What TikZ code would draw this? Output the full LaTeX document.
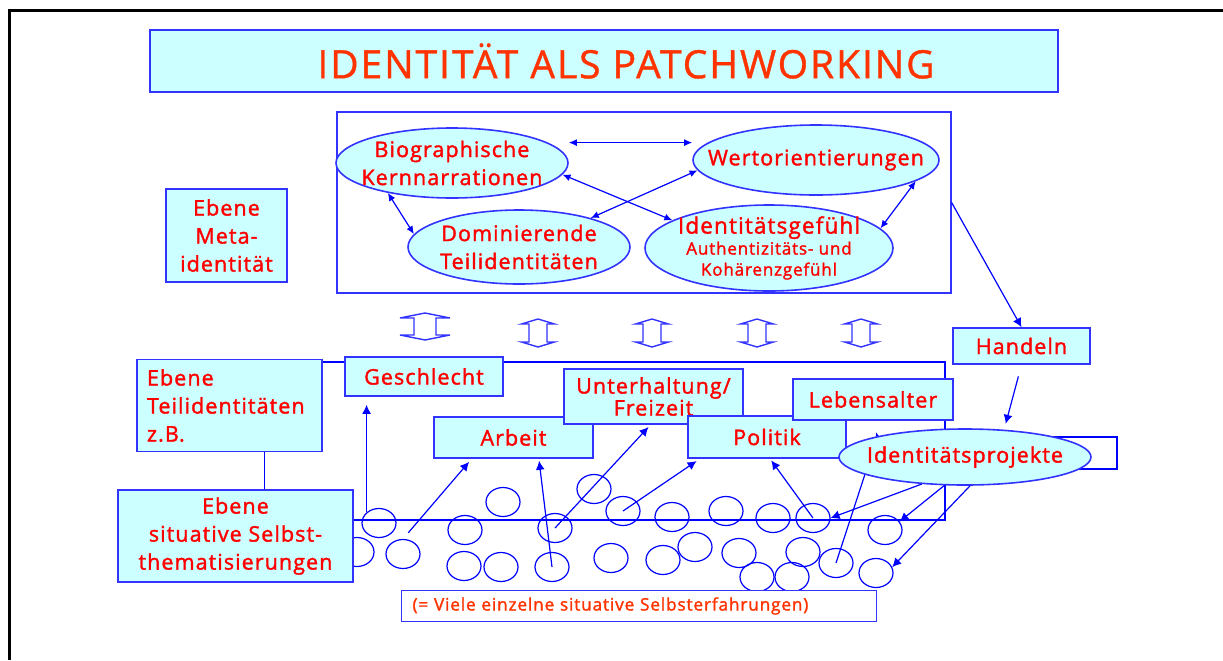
\documentclass[tikz,border=0pt]{standalone}
\usepackage{fontspec}
\setmainfont{Open Sans}
\newfontfamily\labelfont[LetterSpace=5,FakeBold=1.6]{Open Sans}
\newfontfamily\titlefont[LetterSpace=5,FakeBold=1]{Open Sans}
\usetikzlibrary{shapes.geometric,arrows.meta,calc}
\definecolor{cyanfill}{RGB}{204,255,255}
\definecolor{boxblue}{RGB}{51,51,255}
\definecolor{lineblue}{RGB}{0,0,255}
\definecolor{labelred}{RGB}{255,0,0}
\definecolor{titlered}{RGB}{255,51,0}
\begin{document}
\begin{tikzpicture}[x=0.5pt,y=-0.5pt,
  wh/.style 2 args={minimum width=#1*0.5pt,minimum height=#2*0.5pt},
  box/.style={draw=boxblue,fill=cyanfill,line width=0.8pt,text=labelred,inner sep=0pt,
    font=\labelfont\fontsize{10.75}{14}\selectfont,align=center},
  oval/.style={box,ellipse,inner sep=-30pt},
  blob/.style={draw=lineblue,ellipse,line width=0.6pt,inner sep=0pt,wh={34}{29}},
  wire/.style={draw=lineblue,line width=0.6pt},
  arr/.style={wire,-{Latex[length=4.5pt,width=4.5pt]}},
  dbl/.style={wire,{Latex[length=4pt,width=3.5pt]}-{Latex[length=4pt,width=3.5pt]}}]
\useasboundingbox (0,0) rectangle (1223,660);
\draw[line width=1.5pt] (9,660) -- (9,10) -- (1223,10);
% title
\node[draw=boxblue,fill=cyanfill,line width=0.8pt,wh={908}{62}] (titel) at (604,61) {};
\node[text=titlered,font=\titlefont\fontsize{19.5}{20}\selectfont] (titeltext) at ([xshift=11pt]titel.center) {IDENTITÄT ALS PATCHWORKING};
% meta level
\node[draw=boxblue,line width=0.6pt,wh={614}{181}] (meta) at (644,202.5) {};
\node[box,wh={121}{93}] (metaebene) at (226.5,235.5) {Ebene\\Meta-\\identität};
\node[oval,wh={232}{70}] (bio) at (452,163) {Biographische\\Kernnarrationen};
\node[oval,wh={246}{70}] (wert) at (816,160) {Wertorientierungen};
\node[oval,wh={222}{74}] (dom) at (519,247) {Dominierende\\Teilidentitäten};
\node[oval,wh={248}{86},font=\labelfont\fontsize{10.75}{10.5}\selectfont] (gef) at (769,248)
  {{\fontsize{11.25}{10.5}\selectfont Identitätsgefühl}\\{\fontsize{8.5}{10}\selectfont Authentizitäts- und}\\{\fontsize{8.5}{10}\selectfont Kohärenzgefühl}};
\draw[dbl] (bio.12 -| bio.east) -- (bio.12 -| wert.west);
\draw[dbl] (bio.-155) -- (dom.173);
\draw[dbl] (bio.-6) -- (gef.164);
\draw[dbl] (dom.22) -- (wert.185);
\draw[dbl] (wert.-12) -- (gef.10);
% hollow double arrows
\draw[wire,draw=boxblue,line width=0.7pt] (425,313) -- (400,318) -- (414,318) -- (414,335) -- (400,335) -- (425,340)
  -- (450,335) -- (436,335) -- (436,318) -- (450,318) -- cycle;
\foreach \x in {538,652,757,861}
\draw[wire,draw=boxblue,line width=0.7pt] (\x,319) -- (\x-16.5,324) -- (\x-9,324) -- (\x-9,342) -- (\x-16.5,342) -- (\x,347)
  -- (\x+16.5,342) -- (\x+9,342) -- (\x+9,324) -- (\x+16.5,324) -- cycle;
% situative level
\foreach \n/\x/\y in {1/379/523,2/357/552,3/403/554,4/503/502,5/465/530,6/464/566,7/501/567,
  8/555/528,9/552/567,10/594/489,11/623/511,12/611/558,13/672/517,14/663/560,15/695/547,
  16/726/511,17/739/553,18/757/577,19/773/518,20/813/518,21/885/530,22/803/552,23/836/563,
  24/792/577,25/876/573}
\node[blob] (b\n) at (\x,\y) {};
\node[box,wh={185}{92},text width=82.5pt,align=left,inner xsep=5pt] (teil) at (229.5,405.5) {Ebene\\Teilidentitäten\\z.B.};
\node[box,wh={235}{92}] (situ) at (235.5,536) {Ebene\\situative Selbst-\\thematisierungen};
\coordinate (tr) at (945,362);
\coordinate (br) at (945,520);
\draw[wire] (teil.east |- tr) -- (tr) -- (br) -- (br -| situ.east);
\draw[wire] (teil.-53) -- (teil.-53 |- situ.north);
\draw[wire] (960,437) rectangle (1117,469);
\node[box,wh={158}{39}] (gesch) at (424,376.5) {Geschlecht};
\node[box,wh={159}{41}] (arbeit) at (513.5,437.5) {Arbeit};
\node[box,wh={179}{55},font=\labelfont\fontsize{10.75}{11}\selectfont] (unter) at (653.5,396.5) {Unterhaltung/\\Freizeit};
\node[box,wh={158}{42}] (polit) at (767,437) {Politik};
\node[box,wh={160}{41}] (lebens) at (873,399.5) {Lebensalter};
\coordinate (projin) at (883,457);
\draw[arr,shorten >=6pt] (projin) -- (lebens.south);
\node[oval,wh={252}{56}] (proj) at (965,457) {Identitätsprojekte};
\node[box,wh={137}{36}] (handeln) at (1021.5,346) {Handeln};
\node[box,fill=white,text=titlered,font=\labelfont\fontsize{8.6}{10}\selectfont,text width=226.5pt,
  align=left,inner xsep=5.5pt,wh={475}{31}] (fazit) at (639,606) {(= Viele einzelne situative Selbsterfahrungen)};
\draw[arr,shorten >=4pt] (b1.north west) -- (b1.north west |- gesch.south);
\draw[arr,shorten <=4pt,shorten >=2pt] (b3.north) -- (arbeit.-153);
\draw[arr,shorten >=1pt] (b9.center) -- (arbeit.-40);
\draw[arr,shorten >=1.5pt] (b8.center) -- (unter.-96);
\draw[arr,shorten >=2pt] (b11.center) -- (polit.-162);
\draw[arr,shorten >=1pt] (b20.center) -- (polit.-82);
\draw[arr] (proj.-148) -- (b20.east);
\draw[arr] (proj.-126) -- (b21.30);
\draw[arr] (proj.-80) -- (b25.20);
\draw[wire] (proj.-170) -- (b23.center);
\draw[arr] (meta.east) -- (handeln.north);
\draw[arr,shorten <=6pt,shorten >=3pt] (handeln.south) -- (proj.35);
\end{tikzpicture}
\end{document}
